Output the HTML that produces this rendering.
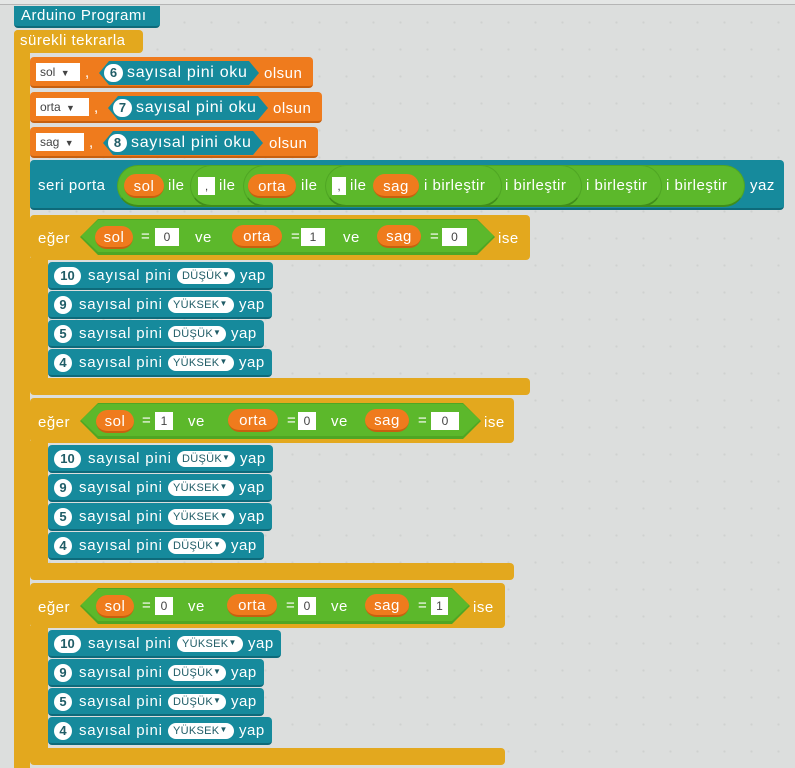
<!DOCTYPE html>
<html><head><meta charset="utf-8">
<style>
*{margin:0;padding:0;box-sizing:border-box}
body{width:795px;height:768px;overflow:hidden;position:relative;background:#dcdedd;
background-image:radial-gradient(circle,#cfd1d0 1px,transparent 1.3px);background-size:27px 27px;background-position:9px 9px;
font-family:"Liberation Sans","DejaVu Sans",sans-serif;color:#fff;font-size:15px;letter-spacing:0.5px}
.a{position:absolute}
.t{position:absolute;white-space:nowrap;line-height:16px}
.teal{background:#168a9c;border-bottom:2px solid #0e6a7a}
.org{background:#ef7b1d;border-bottom:2px solid #c7600f}
.gold{background:#e3a81e}
.grn{background:#5cb82b}
.pill{position:absolute;border-radius:12px;background:#ef7b1d;border-bottom:2px solid #c7600f;text-align:center;line-height:21px;font-size:15px;padding-top:2px}
.box{position:absolute;background:#fff;color:#444;font-size:12px;text-align:center;line-height:18px;height:18px;letter-spacing:0}
.num{position:absolute;background:#fff;color:#1f5c66;border-radius:10px;text-align:center;font-size:13px;line-height:18px;height:18px;font-weight:bold;letter-spacing:0}
.dd{position:absolute;background:#fff;color:#1f5c66;border-radius:9px;font-size:11px;line-height:16px;height:16px;padding-left:5px;letter-spacing:0.3px}
.hex{position:absolute;background:#5cb82b}
</style></head><body>
<div class="a" style="left:0;top:0;width:795px;height:5px;background:#e4e6e5;border-bottom:1px solid #b5b5b5"></div>
<div id="root"></div>
<script>
var h='';
function A(s){h+=s}
function R(x,y,w,ht,c,extra){A('<div class="a '+c+'" style="left:'+x+'px;top:'+y+'px;width:'+w+'px;height:'+ht+'px;'+(extra||'')+'"></div>')}
function T(x,y,s,extra){A('<div class="t" style="left:'+x+'px;top:'+(y-8)+'px;'+(extra||'')+'">'+s+'</div>')}
R(14,30,16,738,'gold','border-radius:4px 0 0 0');
R(14,6,146,22,'teal','border-radius:0 0 4px 4px');T(21,16,'Arduino Programı');
R(14,30,129,23,'gold','border-radius:4px 4px 4px 0');T(20,41,'sürekli tekrarla');
function setb(y,w,name,dw,num,hx,hw,ol){
 R(30,y,w,31,'org','border-radius:4px');
 A('<div class="box" style="left:36px;top:'+(y+6)+'px;width:'+dw+'px;text-align:left;padding-left:4px;font-size:12px">'+name+' <span style="font-size:9px;margin-left:2px">▼</span></div>');
 T(36+dw+5,y+16,',');
 A('<div class="a" style="left:'+hx+'px;top:'+(y+4)+'px;width:'+hw+'px;height:24px;background:#168a9c;clip-path:polygon(10px 0,calc(100% - 10px) 0,100% 50%,calc(100% - 10px) 100%,10px 100%,0 50%)"></div>');
 A('<div class="num" style="left:'+(hx+5)+'px;top:'+(y+7)+'px;width:19px">'+num+'</div>');
 T(hx+28,y+16,'sayısal pini oku','font-size:16px;letter-spacing:0.7px');
 T(ol,y+17,'olsun');
}
setb(57,283,'sol',44,'6',99,160,264);
setb(92,292,'orta',53,'7',108,160,273);
setb(127,288,'sag',48,'8',103,160,269);
R(30,160,754,50,'teal','border-radius:4px');
T(38,186,'seri porta');
function gp(x1,x2){A('<div class="a" style="left:'+x1+'px;top:'+(165)+'px;width:'+(x2-x1)+'px;height:42px;background:#5cb82b;border-radius:21px;border:1px solid #4fa624;border-bottom:2px solid #3f8d1b"></div>')}
gp(117,745);gp(190,662);gp(243,582);gp(325,502);
A('<div class="pill" style="left:124px;top:174px;width:40px;height:24px">sol</div>');
T(168,186,'ile');
A('<div class="box" style="left:198px;top:177px;width:17px">,</div>');
T(219,186,'ile');
A('<div class="pill" style="left:248px;top:174px;width:48px;height:24px">orta</div>');
T(301,186,'ile');
A('<div class="box" style="left:332px;top:177px;width:14px">,</div>');
T(350,186,'ile');
A('<div class="pill" style="left:373px;top:174px;width:46px;height:24px">sag</div>');
T(424,186,'i birleştir');T(505,186,'i birleştir');T(586,186,'i birleştir');T(666,186,'i birleştir');
T(750,186,'yaz');
function ifb(y,w,cy,p){
 R(30,y,w,45,'gold','border-radius:4px');
 R(30,y+43,18,p.bot-y-41,'gold');
 R(30,p.bot,w,17,'gold','border-radius:0 4px 4px 4px');
 T(38,cy+2,'eğer');
 A('<div class="hex" style="left:80px;top:'+(cy-18)+'px;width:'+(p.hx-80)+'px;height:36px;clip-path:polygon(18px 0,calc(100% - 18px) 0,100% 50%,calc(100% - 18px) 100%,18px 100%,0 50%);background:#4fa624"></div>');
 A('<div class="hex" style="left:81px;top:'+(cy-17)+'px;width:'+(p.hx-82)+'px;height:32px;clip-path:polygon(17px 0,calc(100% - 17px) 0,100% 50%,calc(100% - 17px) 100%,17px 100%,0 50%)"></div>');
 var k=p.k;
 A('<div class="pill" style="left:'+k[0]+'px;top:'+(cy-11)+'px;width:38px;height:23px;line-height:19px">sol</div>');
 T(k[0]+46,cy,'=');
 A('<div class="box" style="left:'+k[1]+'px;top:'+(cy-9)+'px;width:'+k[2]+'px">'+p.v[0]+'</div>');
 T(k[3],cy+1,'ve');
 A('<div class="pill" style="left:'+k[4]+'px;top:'+(cy-12)+'px;width:50px;height:23px;line-height:19px">orta</div>');
 T(k[4]+59,cy,'=');
 A('<div class="box" style="left:'+k[5]+'px;top:'+(cy-9)+'px;width:'+k[2]+'px">'+p.v[1]+'</div>');
 T(k[6],cy+1,'ve');
 A('<div class="pill" style="left:'+k[7]+'px;top:'+(cy-12)+'px;width:44px;height:23px;line-height:19px">sag</div>');
 T(k[7]+53,cy,'=');
 A('<div class="box" style="left:'+k[8]+'px;top:'+(cy-9)+'px;width:'+k[9]+'px">'+p.v[2]+'</div>');
 T(p.hx+3,cy+2,'ise');
 var yy=y+47;
 p.rows.forEach(function(r){
  var n=r[0],lv=r[1];var two=n.length>1;
  var ddw=lv=='YÜKSEK'?66:58;
  var nw=two?27:18;
  var sx=55+nw+6;
  var dx=sx+89;
  var wid=dx+ddw+38-48;
  R(48,yy,wid,28,'teal','border-radius:4px');
  A('<div class="num" style="left:54px;top:'+(yy+5)+'px;width:'+nw+'px;border-radius:9px">'+n+'</div>');
  T(sx,yy+14,'sayısal pini','letter-spacing:0.8px');
  A('<div class="dd" style="left:'+dx+'px;top:'+(yy+6)+'px;width:'+ddw+'px">'+lv+'<span style="font-size:8px;position:relative;top:-2px">▼</span></div>');
  T(dx+ddw+5,yy+14,'yap');
  yy+=29;
 });
}
ifb(215,500,237,{bot:378,hx:495,k:[95,155,24,195,232,301,343,377,442,25],v:['0','1','0'],
 rows:[['10','DÜŞÜK'],['9','YÜKSEK'],['5','DÜŞÜK'],['4','YÜKSEK']]});
ifb(398,484,421,{bot:563,hx:481,k:[96,155,18,188,228,298,331,365,431,28],v:['1','0','0'],
 rows:[['10','DÜŞÜK'],['9','YÜKSEK'],['5','YÜKSEK'],['4','DÜŞÜK']]});
ifb(583,475,606,{bot:748,hx:470,k:[96,155,18,188,227,298,331,365,431,17],v:['0','0','1'],
 rows:[['10','YÜKSEK'],['9','DÜŞÜK'],['5','DÜŞÜK'],['4','YÜKSEK']]});
document.getElementById('root').innerHTML=h;
</script>
</body></html>
